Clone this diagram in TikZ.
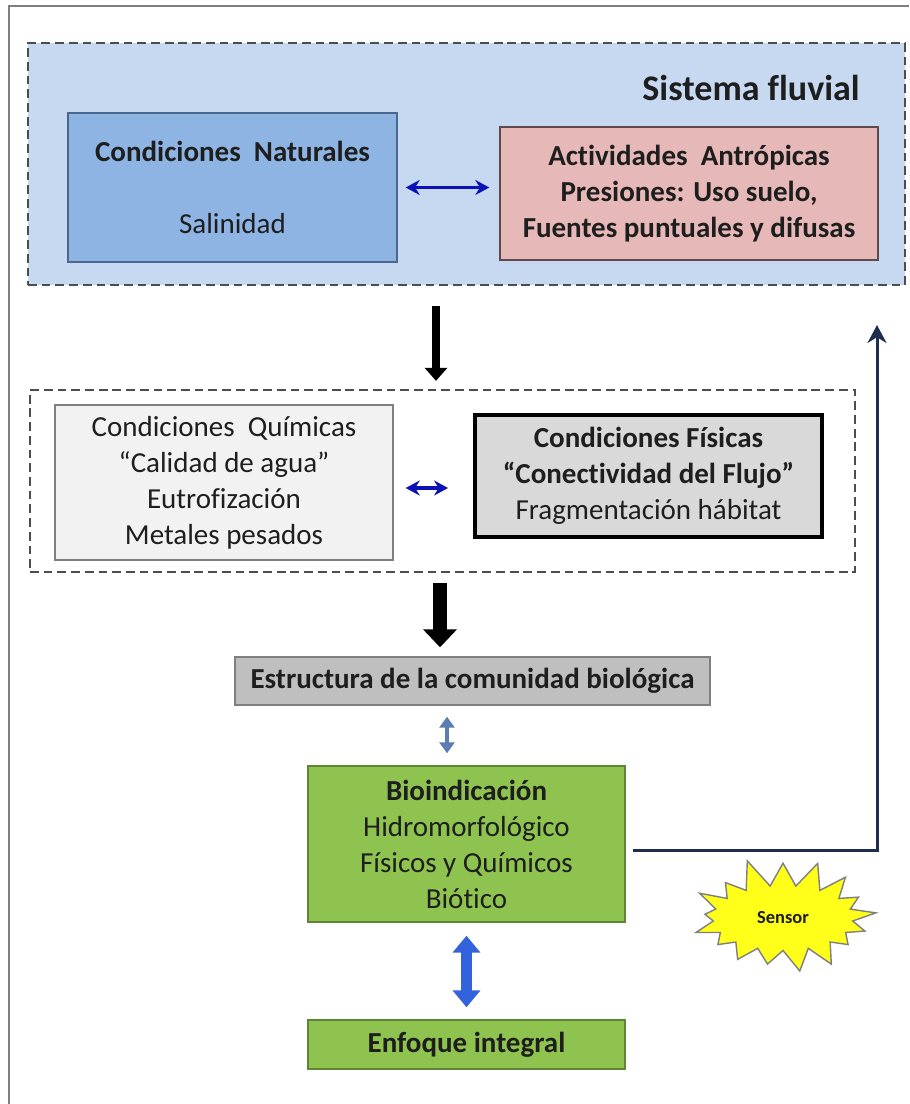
\documentclass[tikz,border=0pt]{standalone}
\usepackage{fontspec}
\setmainfont{Carlito}[Ligatures={NoCommon,NoContextual}, RawFeature={-clig;-calt}]
\usetikzlibrary{arrows.meta, positioning, shapes.symbols}
\definecolor{riverblue}{HTML}{C6D9F1}
\definecolor{naturalblue}{HTML}{8DB4E2}
\definecolor{naturalbluedark}{HTML}{4A6790}
\definecolor{humanpink}{HTML}{E6B9B8}
\definecolor{humanpinkdark}{HTML}{5E4A4A}
\definecolor{chemgray}{HTML}{F2F2F2}
\definecolor{physgray}{HTML}{D9D9D9}
\definecolor{structgray}{HTML}{BFBFBF}
\definecolor{edgegray}{HTML}{7F7F7F}
\definecolor{dashgray}{HTML}{4D4D4D}
\definecolor{biogreen}{HTML}{8FC350}
\definecolor{biogreendark}{HTML}{5F8636}
\definecolor{linkblue}{HTML}{0A12B8}
\definecolor{steelarrow}{HTML}{5B7DB1}
\definecolor{royalarrow}{HTML}{3263DD}
\definecolor{feedbacknavy}{HTML}{1F2D4E}
\definecolor{textdark}{HTML}{1E1E1E}
\definecolor{sensoryellow}{HTML}{FFFF1A}
% keeps Carlito from joining "ti"
\newcommand{\ti}{t\kern0pt i}

\begin{document}
\begin{tikzpicture}[
    % ── Node styles ──────────────────────────────────────────────────────
    base/.style={
        draw, rectangle, align=center, inner sep=2pt,
        font=\fontsize{16.5}{20.5}\selectfont,
        text=textdark, line width=0.8pt
    },
    groupbox/.style={
        draw=dashgray, dashed, dash pattern=on 5pt off 2.8pt,
        line width=1.3pt, rectangle
    },
    naturalnode/.style={
        base, fill=naturalblue, draw=naturalbluedark,
        minimum width=6.58cm, minimum height=2.98cm
    },
    humannode/.style={
        base, fill=humanpink, draw=humanpinkdark,
        minimum width=7.56cm, minimum height=2.66cm
    },
    chemnode/.style={
        base, fill=chemgray, draw=edgegray,
        minimum width=6.76cm, minimum height=3.10cm
    },
    physnode/.style={
        base, fill=physgray, draw=black, line width=2.2pt,
        minimum width=6.94cm, minimum height=2.44cm
    },
    structnode/.style={
        base, fill=structgray, draw=edgegray,
        minimum width=9.5cm, minimum height=0.96cm
    },
    bionode/.style={
        base, fill=biogreen, draw=biogreendark,
        minimum width=6.34cm
    },
    titletext/.style={
        font=\fontsize{20.5}{24}\selectfont\bfseries, text=textdark
    },
    burst/.style={
        starburst, starburst points=17, starburst point height=0.6cm,
        random starburst=11, fill=sensoryellow, draw=edgegray,
        line width=0.8pt, minimum width=4.0cm, minimum height=2.5cm,
        font=\fontsize{10.5}{12}\selectfont\bfseries, text=textdark
    },
    % ── Arrow styles ─────────────────────────────────────────────────────
    linkarr/.style={
        {Stealth[length=0.28cm, width=0.3cm]}-{Stealth[length=0.28cm, width=0.3cm]},
        line width=2.1pt, color=linkblue
    },
    fatarr/.style={
        -{Triangle[length=0.26cm, width=0.44cm]},
        line width=5pt, color=black
    },
    hugearr/.style={
        -{Triangle[length=0.36cm, width=0.66cm]},
        line width=8.5pt, color=black
    },
    steelarr/.style={
        {Triangle[length=0.22cm, width=0.3cm]}-{Triangle[length=0.22cm, width=0.3cm]},
        line width=2.6pt, color=steelarrow
    },
    royalarr/.style={
        {Triangle[length=0.34cm, width=0.54cm]}-{Triangle[length=0.34cm, width=0.54cm]},
        line width=6.8pt, color=royalarrow
    },
    feedback/.style={
        -{Stealth[length=0.36cm, width=0.38cm]},
        line width=1.7pt, color=feedbacknavy
    }
]

\useasboundingbox (0,0) rectangle (18.18,-22.08);

% outer frame, only the left and top edges show
\draw[edgegray, line width=1.5pt] (0.18,-22.08) -- (0.18,-0.12) -- (18.18,-0.12);

% ═══════════════════════════════════════════════════════════════════════════
% 1. River system
% ═══════════════════════════════════════════════════════════════════════════
\node[groupbox, fill=riverblue, minimum width=17.54cm, minimum height=4.84cm]
    (sistema) at (9.33,-3.28) {};
\node[titletext, anchor=east] (title) at (17.32,-1.76) {Sistema fluvial};

\node[naturalnode] (naturales) at (4.65,-3.75)
    {\textbf{Condiciones\ \ Naturales}\\[20.5pt]Salinidad};
\node[humannode] (antropicas) at (13.78,-3.87)
    {\textbf{Ac\ti vidades\ \ Antrópicas}\\\textbf{Presiones: Uso suelo,}\\
     \textbf{Fuentes puntuales y difusas}};

\draw[linkarr, shorten <=0.16cm, shorten >=0.2cm]
    (naturales.east) -- (naturales.east -| antropicas.west);

% ═══════════════════════════════════════════════════════════════════════════
% 2. Chemical and physical conditions
% ═══════════════════════════════════════════════════════════════════════════
\node[groupbox, fill=white, minimum width=16.5cm, minimum height=3.64cm]
    (condiciones) at (8.85,-9.62) {};

\node[chemnode] (quimicas) at (4.48,-9.65)
    {Condiciones\ \ Químicas\\“Calidad de agua”\\Eutrofización\\Metales pesados};
\node[physnode] (fisicas) at (12.97,-9.52)
    {\textbf{Condiciones Físicas}\\\textbf{“Conec\ti vidad del Flujo”}\\Fragmentación hábitat};

\draw[linkarr, shorten <=0.24cm, shorten >=0.5cm]
    ([yshift=-0.11cm]quimicas.east) -- ([yshift=-0.11cm]quimicas.east -| fisicas.west);

\coordinate (dropA) at (8.72,0);
\draw[fatarr, shorten <=0.4cm, shorten >=0.16cm]
    (sistema.south -| dropA) -- (condiciones.north -| dropA);

% ═══════════════════════════════════════════════════════════════════════════
% 3. Community structure and bioindication
% ═══════════════════════════════════════════════════════════════════════════
\node[structnode] (estructura) at (9.45,-13.62)
    {\textbf{Estructura de la comunidad biológica}};

\coordinate (dropB) at (8.8,0);
\draw[hugearr, shorten <=0.2cm, shorten >=0.18cm]
    (condiciones.south -| dropB) -- (estructura.north -| dropB);

\node[bionode, minimum height=3.12cm] (bio) at (9.33,-16.88)
    {\textbf{Bioindicación}\\Hidromorfológico\\Físicos y Químicos\\Bió\ti co};

\coordinate (linkC) at (8.94,0);
\draw[steelarr, shorten <=0.22cm, shorten >=0.24cm]
    (estructura.south -| linkC) -- (bio.north -| linkC);

\node[bionode, minimum height=0.98cm] (enfoque) at (9.33,-20.89)
    {\textbf{Enfoque integral}};

\draw[royalarr, shorten <=0.26cm, shorten >=0.24cm] (bio.south) -- (enfoque.north);

% ═══════════════════════════════════════════════════════════════════════════
% 4. Sensor feedback to the river system
% ═══════════════════════════════════════════════════════════════════════════
\coordinate (backtop) at (17.54,-6.5);
\draw[feedback, shorten <=0.14cm] ([yshift=-0.12cm]bio.east) -| (backtop);

\node[burst] (sensor) at (15.66,-18.36) {Sensor};

\end{tikzpicture}
\end{document}
